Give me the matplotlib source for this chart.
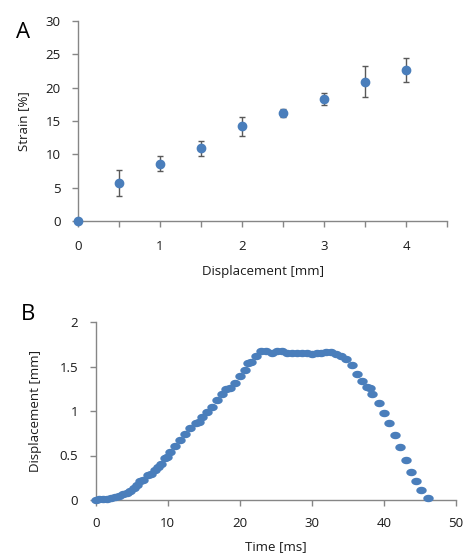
import numpy as np
import matplotlib
matplotlib.use("Agg")
import matplotlib.pyplot as plt
from matplotlib.path import Path
from matplotlib.ticker import MultipleLocator, FixedLocator

plt.rcParams['font.family'] = ['Open Sans', 'DejaVu Sans']

# Panel A data
disp_a = [0, 0.5, 1.0, 1.5, 2.0, 2.5, 3.0, 3.5, 4.0]
strain = [0.0, 5.7, 8.6, 10.9, 14.2, 16.2, 18.3, 20.9, 22.6]
strain_err = [0.0, 1.9, 1.1, 1.15, 1.4, 0.6, 0.9, 2.3, 1.8]

# Panel B data
time_ms = [0, 0.5, 1.05, 1.6, 2.1, 2.7, 3.3, 3.8, 4.3, 4.8, 5.3, 5.7, 6.2, 6.6,
           7.2, 7.7, 8.2, 8.7, 9.0, 9.6, 9.9, 10.3, 11.0, 11.7, 12.4, 13.1,
           13.9, 14.3, 14.7, 15.4, 16.1, 16.9, 17.5, 18.1, 18.6, 19.3, 20.0,
           20.7, 21.2, 21.6, 22.2, 23.0, 23.7, 24.4, 25.1, 25.8, 26.5, 27.2,
           27.9, 28.6, 29.3, 30.0, 30.7, 31.3, 32.0, 32.7, 33.4, 34.1, 34.8,
           35.5, 36.3, 37.0, 37.7, 38.1, 38.4, 39.3, 40.0, 40.7, 41.5, 42.2,
           43.0, 43.7, 44.4, 45.2, 46.1]
disp_b = [0.0, 0.01, 0.01, 0.015, 0.02, 0.03, 0.04, 0.07, 0.08, 0.10, 0.13,
          0.17, 0.21, 0.23, 0.28, 0.29, 0.34, 0.37, 0.41, 0.47, 0.48, 0.54,
          0.61, 0.67, 0.74, 0.81, 0.87, 0.88, 0.93, 0.99, 1.05, 1.12, 1.19,
          1.25, 1.26, 1.31, 1.39, 1.46, 1.54, 1.55, 1.62, 1.67, 1.67, 1.655,
          1.67, 1.67, 1.655, 1.655, 1.655, 1.65, 1.65, 1.64, 1.655, 1.655,
          1.665, 1.665, 1.64, 1.62, 1.58, 1.52, 1.42, 1.34, 1.27, 1.26, 1.19,
          1.09, 0.98, 0.86, 0.73, 0.59, 0.45, 0.32, 0.21, 0.11, 0.02]

BLUE = '#4a7ebb'
SPINE = '#868686'
TXT = '#1a1a1a'
FS = 9.5

fig = plt.figure(figsize=(4.63, 5.56), dpi=100)

def style(ax):
    for s in ['top', 'right']:
        ax.spines[s].set_visible(False)
    for s in ['left', 'bottom']:
        ax.spines[s].set_color(SPINE)
        ax.spines[s].set_linewidth(1.0)
    ax.tick_params(which='both', direction='out', length=4.5, width=1.0,
                   color=SPINE, labelsize=FS, labelcolor=TXT)

# Panel A
axA = fig.add_axes([78/463, 1-221/556, (447-78)/463, 200/556])
style(axA)
axA.errorbar(disp_a, strain, yerr=strain_err, fmt='o', color=BLUE,
             markersize=6, ecolor='#595959', elinewidth=1.0, capsize=2.5,
             capthick=1.0, clip_on=False, zorder=3)
axA.set_xlim(0, 4.5)
axA.set_ylim(0, 30)
axA.xaxis.set_major_locator(FixedLocator([0, 1, 2, 3, 4]))
axA.xaxis.set_minor_locator(FixedLocator([0.5, 1.5, 2.5, 3.5, 4.5]))
axA.yaxis.set_major_locator(MultipleLocator(5))
axA.tick_params(axis='x', pad=9)
axA.tick_params(axis='y', pad=8)
axA.set_xlabel('Displacement [mm]', fontsize=FS, color=TXT, labelpad=9)
axA.set_ylabel('Strain [%]', fontsize=FS, color=TXT, labelpad=11)
fig.text(23/463, 1-33/556, 'A', fontsize=16, color='black', ha='center', va='center')

# Panel B
ell = Path([(np.cos(a)*1.4, np.sin(a)) for a in np.linspace(0, 2*np.pi, 40)], closed=True)
axB = fig.add_axes([95.7/463, 1-500/556, (456-95.7)/463, 178/556])
style(axB)
axB.plot(time_ms, disp_b, linestyle='none', marker=ell, markersize=7.5,
         color=BLUE, markeredgewidth=0, clip_on=False, zorder=3)
axB.set_xlim(0, 50)
axB.set_ylim(0, 2)
axB.xaxis.set_major_locator(MultipleLocator(10))
axB.yaxis.set_major_locator(MultipleLocator(0.5))
axB.yaxis.set_major_formatter(matplotlib.ticker.FuncFormatter(lambda v, p: ('%g' % v)))
axB.tick_params(axis='x', pad=8)
axB.tick_params(axis='y', pad=8)
axB.set_xlabel('Time [ms]', fontsize=FS, color=TXT, labelpad=7)
axB.set_ylabel('Displacement [mm]', fontsize=FS, color=TXT, labelpad=13)
fig.text(28/463, 1-314/556, 'B', fontsize=16, color='black', ha='center', va='center')

fig.savefig('out.png', dpi=100)
